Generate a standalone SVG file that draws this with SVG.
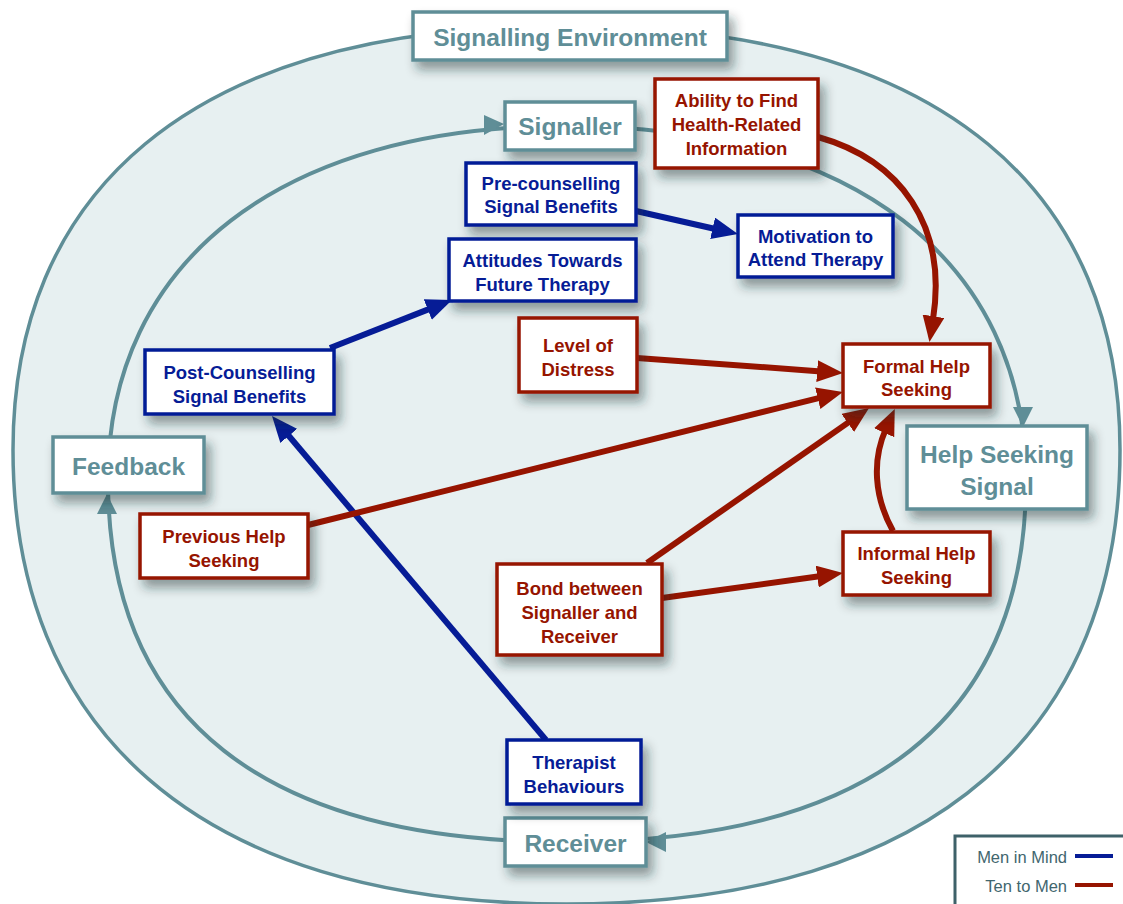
<svg xmlns="http://www.w3.org/2000/svg" width="1123" height="904" viewBox="0 0 1123 904">
  <style>
    .teal-box { fill: #ffffff; stroke: #5f8e97; stroke-width: 3.5; filter: url(#shadow); }
    .red-box { fill: #ffffff; stroke: #961400; stroke-width: 3.5; filter: url(#shadow); }
    .blue-box { fill: #ffffff; stroke: #061c96; stroke-width: 3.5; filter: url(#shadow); }
    .teal-txt { font-family: "Liberation Sans", Arial, sans-serif; font-weight: bold; font-size: 24.5px; fill: #5f8e97; text-anchor: middle; }
    .red-txt { font-family: "Liberation Sans", Arial, sans-serif; font-weight: bold; font-size: 18.5px; fill: #961400; text-anchor: middle; }
    .blue-txt { font-family: "Liberation Sans", Arial, sans-serif; font-weight: bold; font-size: 18.5px; fill: #061c96; text-anchor: middle; }
    .legend-txt { font-family: "Liberation Sans", Arial, sans-serif; font-size: 16.5px; fill: #41666e; text-anchor: end; }
    .ring { fill: none; stroke: #5f8e97; }
    .red-link { fill: none; stroke: #961400; stroke-width: 6; marker-end: url(#head-red); }
    .blue-link { fill: none; stroke: #061c96; stroke-width: 6; marker-end: url(#head-blue); }
    .teal-head { fill: #5f8e97; }
  </style>
  <defs>
    <filter id="shadow" x="-20%" y="-20%" width="150%" height="170%">
      <feDropShadow dx="5" dy="8" stdDeviation="5.5" flood-color="#1e2a2c" flood-opacity="0.45"/>
    </filter>
    <marker id="head-red" markerUnits="userSpaceOnUse" markerWidth="26" markerHeight="22" refX="4" refY="11" orient="auto">
      <path d="M0,0 L26,11 L0,22 z" fill="#961400"/>
    </marker>
    <marker id="head-blue" markerUnits="userSpaceOnUse" markerWidth="26" markerHeight="22" refX="4" refY="11" orient="auto">
      <path d="M0,0 L26,11 L0,22 z" fill="#061c96"/>
    </marker>
  </defs>

  <!-- environment rings -->
  <g id="rings">
    <path class="ring" stroke-width="3.5" style="fill:#e7f0f1"
          d="M13,450 C13,200 180,26 566.5,26 C953,26 1120,200 1120,450 C1120,722.4 943,904 566.5,904 C190,904 13,722.4 13,450 Z"/>
    <path class="ring" stroke-width="4"
          d="M108,480 C108,260.5 282.4,126 567,126 C851.6,126 1026,260.5 1026,480 C1026,719 870,842 567,842 C264,842 108,719 108,480 Z"/>
    <!-- direction of the signalling cycle -->
    <polygon class="teal-head" points="504,124 484,115 484,135"/>
    <polygon class="teal-head" points="1023,427 1013,407 1033,407"/>
    <polygon class="teal-head" points="646,842 666,832 666,852"/>
    <polygon class="teal-head" points="107,494 97,514 117,514"/>
  </g>

  <!-- connectors -->
  <g id="connectors">
    <path class="blue-link" d="M636,211 L716.5,229.2"/>
    <path class="blue-link" d="M330,348 L431.5,308.1"/>
    <path class="blue-link" d="M546,740 L286.2,432.8"/>
    <path class="red-link" d="M818,137 C900,160 948,225 932.9,320.2"/>
    <path class="red-link" d="M637,358 L821.1,371.4"/>
    <path class="red-link" d="M308,525 L821.6,397.3"/>
    <path class="red-link" d="M647,563 L851,420.6"/>
    <path class="red-link" d="M662,598 L821.2,576"/>
    <path class="red-link" d="M893,531 C874,497 872,460 885.8,429.1"/>
  </g>

  <g id="signalling-environment">
    <rect class="teal-box" x="413" y="12" width="314" height="48"/>
    <text class="teal-txt" x="570" y="45.5">Signalling Environment</text>
  </g>
  <g id="signaller">
    <rect class="teal-box" x="505" y="102" width="130" height="48"/>
    <text class="teal-txt" x="570" y="135">Signaller</text>
  </g>
  <g id="feedback">
    <rect class="teal-box" x="53" y="437" width="151" height="56"/>
    <text class="teal-txt" x="128.5" y="475">Feedback</text>
  </g>
  <g id="help-seeking-signal">
    <rect class="teal-box" x="907" y="426" width="180" height="83"/>
    <text class="teal-txt" x="997" y="463">Help Seeking</text>
    <text class="teal-txt" x="997" y="495">Signal</text>
  </g>
  <g id="receiver">
    <rect class="teal-box" x="505" y="818" width="141" height="48"/>
    <text class="teal-txt" x="575.5" y="852">Receiver</text>
  </g>

  <g id="ability-to-find-information">
    <rect class="red-box" x="655" y="79" width="163" height="89"/>
    <text class="red-txt" x="736.5" y="107">Ability to Find</text>
    <text class="red-txt" x="736.5" y="131">Health-Related</text>
    <text class="red-txt" x="736.5" y="155">Information</text>
  </g>
  <g id="pre-counselling">
    <rect class="blue-box" x="466" y="163" width="170" height="62"/>
    <text class="blue-txt" x="551" y="190">Pre-counselling</text>
    <text class="blue-txt" x="551" y="213">Signal Benefits</text>
  </g>
  <g id="motivation">
    <rect class="blue-box" x="738" y="215" width="155" height="62"/>
    <text class="blue-txt" x="815.5" y="242.5">Motivation to</text>
    <text class="blue-txt" x="815.5" y="266">Attend Therapy</text>
  </g>
  <g id="attitudes">
    <rect class="blue-box" x="449" y="239" width="187" height="62"/>
    <text class="blue-txt" x="542.5" y="266.5">Attitudes Towards</text>
    <text class="blue-txt" x="542.5" y="290.5">Future Therapy</text>
  </g>
  <g id="level-of-distress">
    <rect class="red-box" x="519" y="318" width="118" height="74"/>
    <text class="red-txt" x="578" y="351.5">Level of</text>
    <text class="red-txt" x="578" y="375.5">Distress</text>
  </g>
  <g id="formal-help-seeking">
    <rect class="red-box" x="843" y="344" width="147" height="63"/>
    <text class="red-txt" x="916.5" y="372.5">Formal Help</text>
    <text class="red-txt" x="916.5" y="395.5">Seeking</text>
  </g>
  <g id="post-counselling">
    <rect class="blue-box" x="145" y="350" width="189" height="64"/>
    <text class="blue-txt" x="239.5" y="378.5">Post-Counselling</text>
    <text class="blue-txt" x="239.5" y="402.5">Signal Benefits</text>
  </g>
  <g id="previous-help-seeking">
    <rect class="red-box" x="140" y="514" width="168" height="64"/>
    <text class="red-txt" x="224" y="542.5">Previous Help</text>
    <text class="red-txt" x="224" y="566.5">Seeking</text>
  </g>
  <g id="informal-help-seeking">
    <rect class="red-box" x="843" y="532" width="147" height="63"/>
    <text class="red-txt" x="916.5" y="559.5">Informal Help</text>
    <text class="red-txt" x="916.5" y="583.5">Seeking</text>
  </g>
  <g id="bond">
    <rect class="red-box" x="497" y="564" width="165" height="91"/>
    <text class="red-txt" x="579.5" y="594.5">Bond between</text>
    <text class="red-txt" x="579.5" y="618.5">Signaller and</text>
    <text class="red-txt" x="579.5" y="642.5">Receiver</text>
  </g>
  <g id="therapist-behaviours">
    <rect class="blue-box" x="507" y="740" width="134" height="64"/>
    <text class="blue-txt" x="574" y="768.5">Therapist</text>
    <text class="blue-txt" x="574" y="792.5">Behaviours</text>
  </g>

  <g id="legend">
    <rect x="955" y="836" width="180" height="80" fill="#ffffff" stroke="#3e6169" stroke-width="3"/>
    <text class="legend-txt" x="1067" y="863">Men in Mind</text>
    <line x1="1075" y1="856" x2="1113" y2="856" stroke="#061c96" stroke-width="4"/>
    <text class="legend-txt" x="1067" y="892">Ten to Men</text>
    <line x1="1075" y1="885" x2="1113" y2="885" stroke="#961400" stroke-width="4"/>
  </g>
</svg>
